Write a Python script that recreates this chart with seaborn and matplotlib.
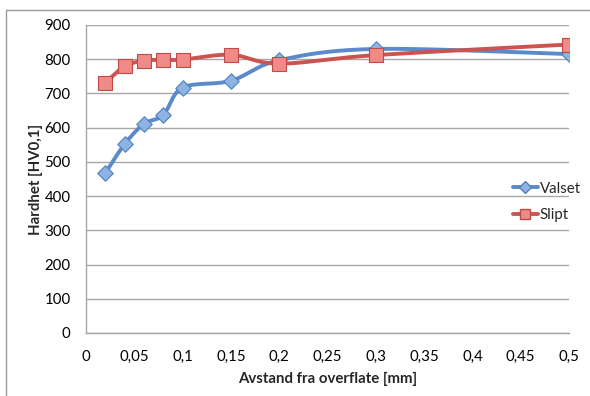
import numpy as np
import pandas as pd
import matplotlib
matplotlib.use("Agg")
import matplotlib.pyplot as plt
from matplotlib.lines import Line2D
import seaborn as sns

# Hardness profiles (HV0.1) versus distance from the surface (mm)
valset_x = [0.02, 0.04, 0.06, 0.08, 0.10, 0.15, 0.20, 0.30, 0.50]
valset_y = [467, 552, 611, 637, 717, 737, 797, 830, 815]
slipt_x = [0.02, 0.04, 0.06, 0.08, 0.10, 0.15, 0.20, 0.30, 0.50]
slipt_y = [731, 779, 796, 798, 799, 813, 787, 812, 843]
x_ticks = [0, 0.05, 0.1, 0.15, 0.2, 0.25, 0.3, 0.35, 0.4, 0.45, 0.5]
x_tick_labels = ["0", "0,05", "0,1", "0,15", "0,2", "0,25", "0,3", "0,35", "0,4", "0,45", "0,5"]
y_ticks = [0, 100, 200, 300, 400, 500, 600, 700, 800, 900]

sns.set_theme(style="white")
plt.rcParams["font.family"] = ["Lato", "DejaVu Sans"]

W, H = 590, 396
fig = plt.figure(figsize=(W / 100, H / 100), dpi=100)
L, R, B, T = 86, 569, 333, 25
ax = fig.add_axes([L / W, 1 - B / H, (R - L) / W, (B - T) / H])

x_scale = (R - L) / 0.5
y_scale = (B - T) / 900.0


def smooth(xs, ys, n=40):
    """Bezier smoothing through the points (Catmull-Rom style, in screen units)."""
    px = np.asarray(xs) * x_scale
    py = np.asarray(ys) * y_scale
    m = len(px)
    out_x, out_y = [], []
    for i in range(m - 1):
        p0 = np.array([px[max(i - 1, 0)], py[max(i - 1, 0)]])
        p1 = np.array([px[i], py[i]])
        p2 = np.array([px[i + 1], py[i + 1]])
        p3 = np.array([px[min(i + 2, m - 1)], py[min(i + 2, m - 1)]])
        c1 = p1 + (p2 - p0) / 6.0
        c2 = p2 - (p3 - p1) / 6.0
        t = np.linspace(0, 1, n)[:, None]
        pts = ((1 - t) ** 3) * p1 + 3 * ((1 - t) ** 2) * t * c1 + 3 * (1 - t) * t ** 2 * c2 + t ** 3 * p2
        if i > 0:
            pts = pts[1:]
        out_x.extend(pts[:, 0] / x_scale)
        out_y.extend(pts[:, 1] / y_scale)
    return np.array(out_x), np.array(out_y)


blue_line = "#5A8ACB"
blue_fill = "#8DB3E2"
blue_edge = "#4F81BD"
red_line = "#CB5450"
red_fill = "#EE8A87"
red_edge = "#BE4B48"

# smoothed connecting curves
sx, sy = smooth(valset_x, valset_y)
rx, ry = smooth(slipt_x, slipt_y)
sns.lineplot(x=sx, y=sy, color=blue_line, linewidth=2.8, sort=False, ax=ax, zorder=3)
sns.lineplot(x=rx, y=ry, color=red_line, linewidth=2.8, sort=False, ax=ax, zorder=4)

# measured points
pts_v = pd.DataFrame({"x": valset_x, "y": valset_y})
pts_s = pd.DataFrame({"x": slipt_x, "y": slipt_y})
sns.scatterplot(data=pts_v, x="x", y="y", marker="D", s=62, color=blue_fill,
                edgecolor=blue_edge, linewidth=0.8, ax=ax, zorder=5)
sns.scatterplot(data=pts_s, x="x", y="y", marker="s", s=90, color=red_fill,
                edgecolor=red_edge, linewidth=0.8, ax=ax, zorder=6)

ax.set_xlim(0, 0.5)
ax.set_ylim(0, 900)
ax.set_xticks(x_ticks)
ax.set_xticklabels(x_tick_labels)
ax.set_yticks(y_ticks)
ax.set_yticklabels([str(v) for v in y_ticks])
ax.grid(axis="y", color="#A6A6A6", linewidth=1.0)
ax.grid(axis="x", visible=False)
ax.set_axisbelow(True)
for side in ["top", "right"]:
    ax.spines[side].set_visible(False)
for side in ["left", "bottom"]:
    ax.spines[side].set_color("#A6A6A6")
    ax.spines[side].set_linewidth(1.0)
ax.tick_params(axis="both", which="both", direction="out", length=4, width=1.0,
               color="#A6A6A6", labelsize=10.8, labelcolor="#000000", pad=7)
ax.tick_params(axis="x", pad=8)
ax.set_xlabel("Avstand fra overflate [mm]", fontsize=10.8, fontweight="bold", labelpad=6)
ax.set_ylabel("Hardhet [HV0,1]", fontsize=10.8, fontweight="bold", labelpad=1)

handles = [
    Line2D([], [], color=blue_line, linewidth=2.8, marker="D", markersize=6,
           markerfacecolor=blue_fill, markeredgecolor=blue_edge),
    Line2D([], [], color=red_line, linewidth=2.8, marker="s", markersize=7,
           markerfacecolor=red_fill, markeredgecolor=red_edge),
]
fig.legend(handles, ["Valset", "Slipt"], loc="center left",
           bbox_to_anchor=(505 / W, 1 - 202 / H), frameon=False, fontsize=10.8,
           handlelength=1.7, handletextpad=0.1, labelspacing=0.85, borderpad=0)

# chart area frame
fig.add_artist(Line2D([6 / W, 1], [1 - 10 / H, 1 - 10 / H], color="#9A9A9A", linewidth=1.0))
fig.add_artist(Line2D([6 / W, 6 / W], [0, 1 - 10 / H], color="#9A9A9A", linewidth=1.0))

fig.savefig("out.png", dpi=100)
